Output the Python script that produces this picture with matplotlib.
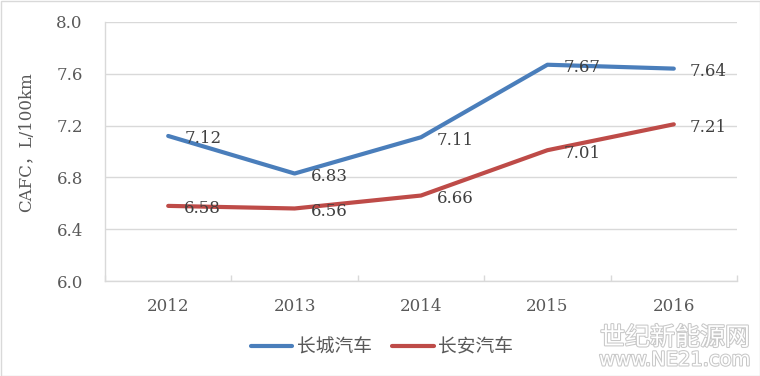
import matplotlib
matplotlib.use("Agg")
import matplotlib.pyplot as plt
from matplotlib.patches import Rectangle
import matplotlib.patheffects as pe

years = ["2012", "2013", "2014", "2015", "2016"]
great_wall = [7.12, 6.83, 7.11, 7.67, 7.64]
changan = [6.58, 6.56, 6.66, 7.01, 7.21]
series_names = ["长城汽车", "长安汽车"]
yticks = [6.0, 6.4, 6.8, 7.2, 7.6, 8.0]
ylabel = "CAFC，L/100km"

plt.rcParams['font.family'] = ['DejaVu Serif', 'Noto Sans CJK SC']

fig = plt.figure(figsize=(7.6, 3.76), dpi=100)
ax = fig.add_axes([105/760, 1-281/376, (737-105)/760, (281-22)/376])

x = list(range(len(years)))
blue = "#4a7ebb"
red = "#be4b48"
ax.plot(x, great_wall, color=blue, lw=3, solid_capstyle='round', label=series_names[0], zorder=3)
ax.plot(x, changan, color=red, lw=3, solid_capstyle='round', label=series_names[1], zorder=3)

for xi, v in zip(x, great_wall):
    ax.annotate(f"{v:.2f}", (xi, v), xytext=(16, -3), textcoords='offset pixels',
                ha='left', va='center', fontsize=12, color="#404040", zorder=4)
for xi, v in zip(x, changan):
    ax.annotate(f"{v:.2f}", (xi, v), xytext=(16, -3), textcoords='offset pixels',
                ha='left', va='center', fontsize=12, color="#404040", zorder=4)

ax.set_xlim(-0.5, len(years) - 0.5)
ax.set_ylim(6.0, 8.0)
ax.set_yticks(yticks)
ax.set_yticklabels([f"{t:.1f}" for t in yticks])
ax.set_xticks(x)
ax.set_xticklabels(years)
ax.set_xticks([i - 0.5 for i in range(len(years) + 1)], minor=True)
ax.tick_params(axis='y', length=0, pad=16, labelsize=12, labelcolor="#595959")
ax.tick_params(axis='x', which='major', length=0, pad=12, labelsize=12, labelcolor="#595959")
ax.tick_params(axis='x', which='minor', direction='in', length=4, color="#d9d9d9", width=1)

ax.grid(axis='y', color="#d9d9d9", lw=1)
ax.set_axisbelow(True)
for s in ['top', 'right']:
    ax.spines[s].set_visible(False)
for s in ['left', 'bottom']:
    ax.spines[s].set_color("#d9d9d9")
    ax.spines[s].set_linewidth(1)

fig.text(27/760, 1-142/376, ylabel, rotation=90, ha='center', va='center',
         fontsize=12, color="#595959")

leg = fig.legend(loc='center', bbox_to_anchor=(382/760, 1-347/376), ncol=2, frameon=False,
                 prop={'family': ['Noto Sans CJK SC'], 'size': 13.5},
                 handlelength=2.2, handletextpad=0.25, columnspacing=1.1)
for t in leg.get_texts():
    t.set_color("#595959")

# watermark
fig.text(675/760, 1-338/376, "世纪新能源网", ha='center', va='center', fontsize=18,
         family=['Noto Sans CJK SC'], color='white',
         path_effects=[pe.withStroke(linewidth=1.5, foreground="#c8c8c8")])
fig.text(675/760, 1-360/376, "www.NE21.com", ha='center', va='center', fontsize=14,
         family=['DejaVu Sans'], color='white',
         path_effects=[pe.withStroke(linewidth=1.5, foreground="#c8c8c8")])

fig.patches.append(Rectangle((0.5/760, 0.5/376), 1 - 1/760, 1 - 1/376, transform=fig.transFigure,
                             fill=False, edgecolor="#d9d9d9", lw=1))

fig.savefig("out.png", dpi=100)
